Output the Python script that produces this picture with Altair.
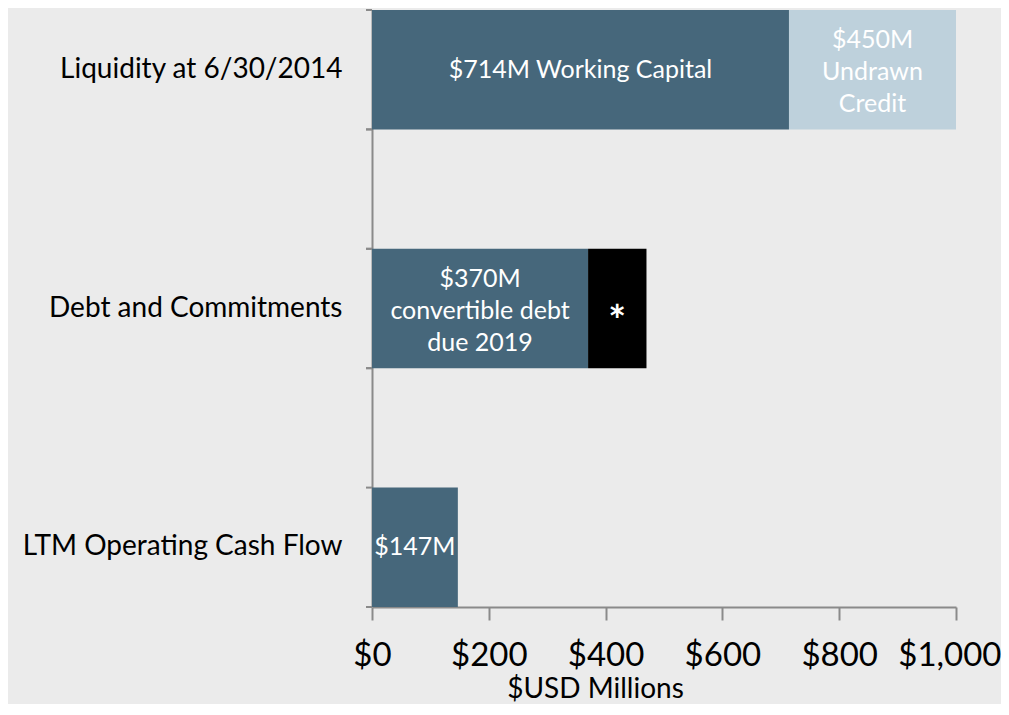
import altair as alt
import pandas as pd

# ---- data ----
categories = ["Liquidity at 6/30/2014", "Debt and Commitments", "LTM Operating Cash Flow"]
seg_category = ["Liquidity at 6/30/2014", "Liquidity at 6/30/2014",
                "Debt and Commitments", "Debt and Commitments",
                "LTM Operating Cash Flow"]
seg_name = ["Working Capital", "Undrawn Credit", "Convertible Debt",
            "Other Commitments", "Operating Cash Flow"]
seg_value = [714, 450, 370, 100, 147]
seg_order = [1, 2, 1, 2, 1]
seg_label = ["$714M Working Capital", "$450M\nUndrawn\nCredit",
             "$370M\nconvertible debt\ndue 2019", "*", "$147M"]
seg_colors = ["#46677b", "#bed1dc", "#46677b", "#000000", "#46677b"]
x_ticks = [0, 200, 400, 600, 800, 1000]
x_max = 1000

df = pd.DataFrame({
    "category": seg_category,
    "segment": seg_name,
    "value": seg_value,
    "order": seg_order,
    "label": seg_label,
})

FONT = "Lato"
AXIS_GRAY = "#8a8a8a"

y_scale = alt.Scale(domain=categories, paddingInner=0.5, paddingOuter=0)
x_scale = alt.Scale(domain=[0, x_max], nice=False)

base = alt.Chart(df).transform_window(
    end="sum(value)", groupby=["category"],
    sort=[alt.SortField("order")], frame=[None, 0]
).transform_calculate(
    start="datum.end - datum.value",
    mid=f"(datum.start + min(datum.end, {x_max})) / 2",
)

last_tick = f"datum.value == {x_max}"

bars = base.mark_bar(clip=True).encode(
    x=alt.X("start:Q", scale=x_scale,
            axis=alt.Axis(values=x_ticks, format="$,d", title="$USD Millions",
                          grid=False, labelFontSize=33, labelFont=FONT,
                          labelColor="#000000", labelPadding=19,
                          labelFlush=False,
                          labelAlign={"condition": {"test": last_tick, "value": "right"},
                                      "value": "center"},
                          labelOffset={"condition": {"test": last_tick, "value": 45},
                                       "value": 0},
                          tickSize=13, tickColor=AXIS_GRAY, tickWidth=2,
                          domainColor=AXIS_GRAY, domainWidth=2,
                          titleFont=FONT, titleFontSize=28,
                          titleFontWeight="normal", titleColor="#000000",
                          titleX=223, titleY=90, titleAlign="center",
                          titleBaseline="alphabetic")),
    x2="end:Q",
    y=alt.Y("category:N", scale=y_scale,
            axis=alt.Axis(title=None, ticks=False, tickSize=0,
                          labelFontSize=28, labelFont=FONT, labelLimit=0,
                          labelColor="#000000", labelPadding=30,
                          domainColor=AXIS_GRAY, domainWidth=2)),
    color=alt.Color("segment:N",
                    scale=alt.Scale(domain=seg_name, range=seg_colors),
                    legend=None),
)

text_enc = dict(
    x=alt.X("mid:Q", scale=x_scale),
    y=alt.Y("category:N", scale=y_scale),
    text="label:N",
)

labels_multi = base.transform_filter(
    "indexof(datum.label, '\\n') >= 0"
).mark_text(color="white", font=FONT, fontSize=25, lineHeight=32,
            align="center", baseline="middle", lineBreak="\n",
            dy=-30).encode(**text_enc)

labels_single = base.transform_filter(
    "indexof(datum.label, '\\n') < 0 && datum.label != '*'"
).mark_text(color="white", font=FONT, fontSize=25,
            align="center", baseline="middle").encode(**text_enc)

asterisk = base.transform_filter(
    "datum.label == '*'"
).mark_text(color="white", font=FONT, fontSize=42, fontWeight="bold",
            align="center", baseline="middle", dy=14).encode(**text_enc)

tick_top = alt.Chart(df).mark_rule(color=AXIS_GRAY, strokeWidth=2).encode(
    y=alt.Y("category:N", scale=y_scale, bandPosition=0),
    x=alt.value(-6), x2=alt.value(0),
)
tick_bottom = alt.Chart(df).mark_rule(color=AXIS_GRAY, strokeWidth=2).encode(
    y=alt.Y("category:N", scale=y_scale, bandPosition=1),
    x=alt.value(-6), x2=alt.value(0),
)

chart = alt.layer(bars, labels_multi, labels_single, asterisk,
                  tick_top, tick_bottom).properties(
    width=584, height=597,
    autosize=alt.AutoSizeParams(type="none"),
    padding={"left": 364, "top": 2, "right": 45, "bottom": 97},
    background="#ebebeb",
).configure_view(stroke=None)

chart.save("out.html", embed_options={"renderer": "svg", "actions": False})
